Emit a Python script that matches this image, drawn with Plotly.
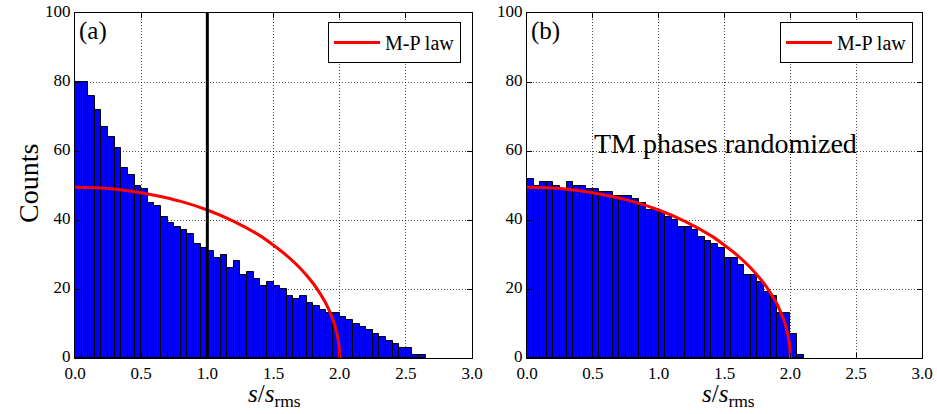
import plotly.graph_objects as go

# Histogram bin layout (left edges, width 0.05)
bin_width = 0.05

# (a) singular-value histogram of the measured transmission matrix
counts_a = [80, 80, 76, 72, 67, 64, 61, 55, 53, 50,
            49, 45, 44, 41, 39, 38, 37, 36, 33, 32,
            31, 29, 30, 26, 28, 24, 25, 23, 21, 22,
            21, 20, 18, 17, 18, 16, 15, 14, 13, 13,
            12, 11, 10, 9, 8, 7, 6, 5, 4, 3,
            3, 1, 1]

# (b) same, with TM phases randomized
counts_b = [52, 50, 51, 51, 50, 49, 51, 50, 50, 49,
            49, 48, 48, 47, 47, 47, 46, 45, 43, 43,
            42, 41, 40, 38, 38, 37, 35, 34, 33, 32,
            29, 29, 27, 24, 24, 22, 19, 18, 13, 13,
            7, 1]

edges_a = [round(i * bin_width, 2) for i in range(len(counts_a))]
edges_b = [round(i * bin_width, 2) for i in range(len(counts_b))]

# Marchenko-Pastur (quarter-circle) law, sampled points
mp_s = [0.0, 0.2, 0.4, 0.6, 0.8, 1.0, 1.2, 1.4, 1.5, 1.6, 1.7, 1.8,
        1.85, 1.9, 1.95, 1.98, 1.995, 2.0]
mp_y = [49.5, 49.3, 48.5, 47.2, 45.4, 42.9, 39.6, 35.4, 32.7, 29.7, 26.1, 21.6,
        18.8, 15.5, 11.0, 7.0, 3.5, 0.0]

x_ticks = [0.0, 0.5, 1.0, 1.5, 2.0, 2.5, 3.0]
y_ticks = [0, 20, 40, 60, 80, 100]

SERIF = "'Liberation Serif', 'Times New Roman', Times, serif"
W, H = 937, 414
M_T, M_B = 13, 56
PLOT_H = H - M_T - M_B


def py(pix):
    """vertical pixel -> paper fraction"""
    return (H - M_B - pix) / PLOT_H


fig = go.Figure()

for edges, counts, xa, ya, leg in [(edges_a, counts_a, "x", "y", "legend"),
                                    (edges_b, counts_b, "x2", "y2", "legend2")]:
    fig.add_trace(go.Bar(
        x=edges, y=counts, width=bin_width, offset=0,
        marker=dict(color="#0000FF", line=dict(color="black", width=1)),
        showlegend=False, xaxis=xa, yaxis=ya,
    ))
    fig.add_trace(go.Scatter(
        x=mp_s, y=mp_y, mode="lines", name="M-P law",
        line=dict(color="#FF0000", width=3, shape="spline", smoothing=0.6),
        xaxis=xa, yaxis=ya, legend=leg,
    ))

axis_common = dict(
    showline=True, linecolor="black", linewidth=1, mirror="allticks",
    ticks="inside", ticklen=5, tickcolor="black", automargin=False,
    showgrid=True, gridcolor="rgba(0,0,0,0.7)", gridwidth=1, griddash="1px,2px",
    zeroline=False, tickfont=dict(family=SERIF, size=17, color="black"),
)
xaxis_common = dict(range=[0, 3], tickvals=x_ticks, tickformat=".1f", **axis_common)
yaxis_common = dict(domain=[0, 1], range=[0, 100], tickvals=y_ticks,
                    ticklabelshift=-2, **axis_common)

legend_common = dict(
    xanchor="right", yanchor="top", y=py(22),
    bgcolor="white", bordercolor="black", borderwidth=1,
    font=dict(family=SERIF, size=20, color="black"), itemwidth=46,
)

fig.update_layout(
    width=W, height=H,
    margin=dict(l=0, r=0, t=M_T, b=M_B, pad=0, autoexpand=False),
    paper_bgcolor="white", plot_bgcolor="white",
    bargap=0, barmode="overlay",
    xaxis=dict(domain=[75 / W, 472 / W], anchor="y", **xaxis_common),
    yaxis=dict(anchor="x", **yaxis_common),
    xaxis2=dict(domain=[527 / W, 922 / W], anchor="y2", **xaxis_common),
    yaxis2=dict(anchor="x2", **yaxis_common),
    legend=dict(x=461 / W, **legend_common),
    legend2=dict(x=913 / W, **legend_common),
    showlegend=True,
)

# vertical marker at s/s_rms = 1 in panel (a)
fig.add_shape(type="line", xref="x", yref="y domain", x0=1.0, x1=1.0, y0=0, y1=1,
              line=dict(color="black", width=3), layer="above")

annotations = [
    dict(text="(a)", xref="x domain", yref="y domain", x=0.005, y=0.995,
         xanchor="left", yanchor="top", showarrow=False,
         font=dict(family=SERIF, size=25, color="black")),
    dict(text="(b)", xref="x2 domain", yref="y2 domain", x=0.005, y=0.995,
         xanchor="left", yanchor="top", showarrow=False,
         font=dict(family=SERIF, size=25, color="black")),
    dict(text="TM phases randomized", xref="x2", yref="y2", x=1.51, y=62.3,
         xanchor="center", yanchor="middle", showarrow=False,
         font=dict(family=SERIF, size=28, color="black")),
    dict(text="Counts", xref="paper", yref="paper", x=28 / W, y=py(184),
         xanchor="center", yanchor="middle", textangle=-90, showarrow=False,
         font=dict(family=SERIF, size=28, color="black")),
]
for xc in (274, 728):
    annotations.append(dict(
        text="<i>s</i>/<i>s</i><sub>rms</sub>", xref="paper", yref="paper",
        x=xc / W, y=py(413), xanchor="center", yanchor="bottom", showarrow=False,
        font=dict(family=SERIF, size=25, color="black")))
fig.update_layout(annotations=annotations)

fig.write_html("out.html")
